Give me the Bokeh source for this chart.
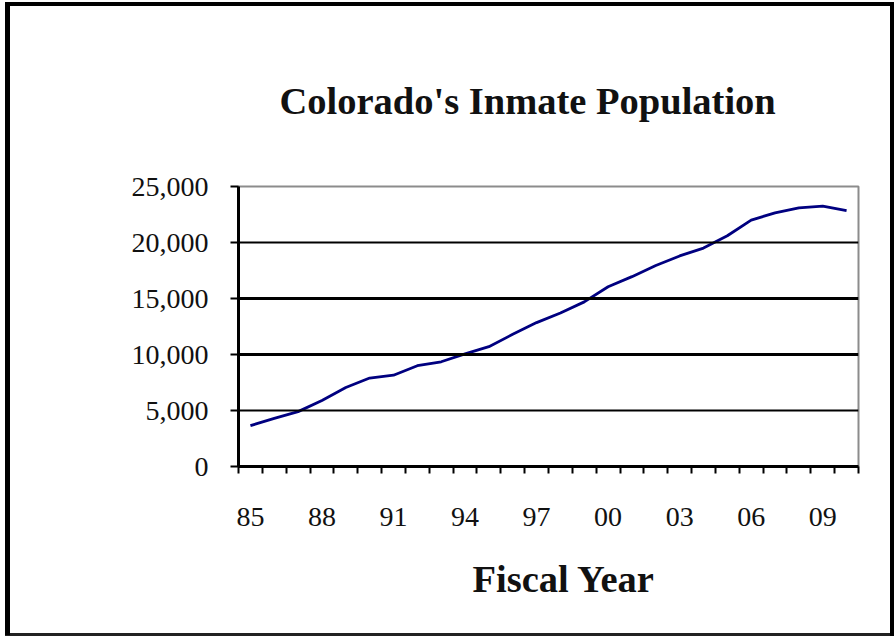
from bokeh.plotting import figure
from bokeh.models import FixedTicker, Range1d, Span, NumeralTickFormatter, Title, InlineStyleSheet
from bokeh.embed import file_html
from bokeh.resources import INLINE

# Fiscal years (category labels) and inmate population
years = ["85", "86", "87", "88", "89", "90", "91", "92", "93", "94", "95", "96", "97",
         "98", "99", "00", "01", "02", "03", "04", "05", "06", "07", "08", "09", "10"]
population = [3650, 4300, 4900, 5900, 7050, 7900, 8150, 9000, 9350, 10050, 10700, 11800, 12850,
              13700, 14700, 16050, 16950, 17950, 18800, 19500, 20600, 22000, 22650, 23100, 23250, 22850]
y_ticks = [0, 5000, 10000, 15000, 20000, 25000]
labeled_years = ["85", "88", "91", "94", "97", "00", "03", "06", "09"]
title_text = "Colorado's Inmate Population"
x_title = "Fiscal Year"

xs = [i + 0.5 for i in range(len(years))]

# outer black frame around the whole picture, drawn as the page element's background
frame_css = """
:host {
  background:
    linear-gradient(#000,#000) 5px 2px / 5px 633px no-repeat,
    linear-gradient(#000,#000) 5px 2px / 889px 4px no-repeat,
    linear-gradient(#000,#000) 890px 2px / 4px 634px no-repeat,
    linear-gradient(#222,#222) 5px 633px / 889px 3px no-repeat,
    #ffffff !important;
}
"""

p = figure(width=894, height=636, output_backend="svg", toolbar_location=None,
           x_range=Range1d(0, len(years)), y_range=Range1d(0, 25000),
           min_border_left=238, min_border_right=36, min_border_top=186, min_border_bottom=170,
           stylesheets=[InlineStyleSheet(css=frame_css)])

p.background_fill_color = "white"
p.border_fill_color = None
p.outline_line_color = "#8c8c8c"
p.outline_line_width = 2

# title
p.title.text = title_text
p.title.text_font = "Liberation Serif"
p.title.text_font_style = "bold"
p.title.text_font_size = "38.5px"
p.title.align = "left"
p.title.offset = 41
p.title.standoff = 130
p.title.text_color = "#111111"

# grid lines (drawn as spans so that the inner ones can be heavier)
p.xgrid.visible = False
p.ygrid.visible = False
grid_widths = [2, 3, 3, 2]
for yv, w in zip(y_ticks[1:-1], grid_widths):
    p.add_layout(Span(location=yv, dimension="width", line_color="black", line_width=w))

# y axis
p.yaxis.ticker = FixedTicker(ticks=y_ticks)
p.yaxis.formatter = NumeralTickFormatter(format="0,0")
p.yaxis.axis_line_color = "black"
p.yaxis.axis_line_width = 3
p.yaxis.major_tick_line_color = "black"
p.yaxis.major_tick_line_width = 2
p.yaxis.major_tick_out = 8
p.yaxis.major_tick_in = 0
p.yaxis.minor_tick_line_color = None
p.yaxis.major_label_text_font = "Liberation Serif"
p.yaxis.major_label_text_font_size = "28px"
p.yaxis.major_label_text_color = "#111111"
p.yaxis.major_label_standoff = 22

# x axis: tick marks between categories, labels every third year
label_pos = [xs[years.index(y)] for y in labeled_years]
p.xaxis.ticker = FixedTicker(ticks=label_pos, minor_ticks=list(range(len(years) + 1)))
p.xaxis.major_label_overrides = {xs[years.index(y)]: y for y in labeled_years}
p.xaxis.axis_line_color = "black"
p.xaxis.axis_line_width = 3
p.xaxis.major_tick_line_color = None
p.xaxis.major_tick_out = 7
p.xaxis.major_tick_in = 0
p.xaxis.minor_tick_line_color = "black"
p.xaxis.minor_tick_line_width = 2
p.xaxis.minor_tick_out = 7
p.xaxis.minor_tick_in = 0
p.xaxis.major_label_text_font = "Liberation Serif"
p.xaxis.major_label_text_font_size = "28px"
p.xaxis.major_label_text_color = "#111111"
p.xaxis.major_label_standoff = 34

# x-axis title, offset to the right like the original
p.add_layout(Title(text=x_title, align="left", offset=234, standoff=54,
                   text_font="Liberation Serif", text_font_style="bold",
                   text_font_size="38.5px", text_color="#111111"), "below")

p.line(xs, population, line_color="#000080", line_width=2.8)

open("out.html", "w").write(file_html(p, INLINE))
